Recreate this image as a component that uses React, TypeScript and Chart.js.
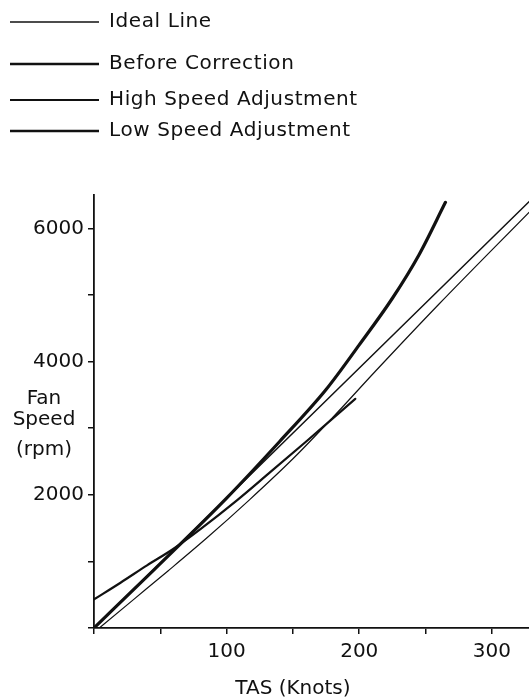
import React, { useEffect, useRef } from 'react';
import { Chart, registerables } from 'chart.js';

Chart.register(...registerables);

// ---- data ----
const SERIES_LABELS = ['Ideal Line', 'Before Correction', 'High Speed Adjustment', 'Low Speed Adjustment'];

const IDEAL_TAS = [0, 328];
const IDEAL_RPM = [0, 6400];

const BEFORE_TAS = [0, 45, 100, 140, 175, 200, 225, 245, 265];
const BEFORE_RPM = [0, 870, 1950, 2800, 3580, 4250, 4950, 5600, 6390];

const HIGH_TAS = [4, 30, 56, 85, 117, 150, 180, 212, 260, 328];
const HIGH_RPM = [0, 430, 860, 1350, 1920, 2540, 3160, 3850, 4860, 6240];

const LOW_TAS = [0, 20, 40, 60, 80, 108, 130, 160, 197];
const LOW_RPM = [430, 680, 940, 1190, 1480, 1920, 2290, 2800, 3440];

const X_TICK_VALUES = [0, 50, 100, 150, 200, 250, 300];
const X_TICK_LABELS = [100, 200, 300];
const Y_TICK_VALUES = [0, 1000, 2000, 3000, 4000, 5000, 6000];
const Y_TICK_LABELS = [2000, 4000, 6000];
const X_TITLE = 'TAS (Knots)';
const Y_TITLE_LINES = ['Fan', 'Speed', '(rpm)'];

// ---- styling ----
const INK = '#111';
const FONT = '"DejaVu Sans", sans-serif';
const LEGEND_ROW_Y = [22, 64, 100, 131];
const Y_TITLE_BASELINES = [404, 425, 455];

const toPoints = (xs: number[], ys: number[]) => xs.map((x, i) => ({ x, y: ys[i] }));

const annotate = {
  id: 'annotate',
  afterDraw(chart: any) {
    const ctx = chart.ctx as CanvasRenderingContext2D;
    ctx.save();
    ctx.fillStyle = INK;
    ctx.strokeStyle = INK;
    ctx.lineCap = 'butt';
    ctx.font = `20px ${FONT}`;
    ctx.textAlign = 'left';
    ctx.textBaseline = 'alphabetic';
    // legend, one row per series
    chart.data.datasets.forEach((ds: any, i: number) => {
      const y = LEGEND_ROW_Y[i];
      ctx.lineWidth = ds.legendLineWidth;
      ctx.beginPath();
      ctx.moveTo(10, y);
      ctx.lineTo(99, y);
      ctx.stroke();
      (ctx as any).letterSpacing = '0.6px';
      ctx.fillText(ds.label, 109, y + 5);
    });
    (ctx as any).letterSpacing = '0px';
    // horizontal y-axis title
    ctx.textAlign = 'center';
    Y_TITLE_LINES.forEach((t, i) => ctx.fillText(t, 44, Y_TITLE_BASELINES[i]));
    // x-axis title
    const xs = chart.scales.x;
    ctx.fillText(X_TITLE, xs.getPixelForValue(150), 694);
    ctx.restore();
  },
};

export default function App() {
  const ref = useRef<HTMLCanvasElement | null>(null);

  useEffect(() => {
    if (!ref.current) return;
    const common = {
      showLine: true,
      pointRadius: 0,
      borderColor: INK,
      backgroundColor: INK,
      fill: false,
      cubicInterpolationMode: 'monotone' as const,
      borderCapStyle: 'round' as const,
    };
    const gridOpts = { display: true, drawOnChartArea: false, drawTicks: true, tickLength: 6, color: INK, tickColor: INK, lineWidth: 1.5 };
    const chart = new Chart(ref.current, {
      type: 'scatter',
      data: {
        datasets: [
          { ...common, label: SERIES_LABELS[0], data: toPoints(IDEAL_TAS, IDEAL_RPM), borderWidth: 1.5, legendLineWidth: 1.3 } as any,
          { ...common, label: SERIES_LABELS[1], data: toPoints(BEFORE_TAS, BEFORE_RPM), borderWidth: 3.2, legendLineWidth: 2.6 } as any,
          { ...common, label: SERIES_LABELS[2], data: toPoints(HIGH_TAS, HIGH_RPM), borderWidth: 1.2, legendLineWidth: 1.8 } as any,
          { ...common, label: SERIES_LABELS[3], data: toPoints(LOW_TAS, LOW_RPM), borderWidth: 2.2, legendLineWidth: 2.6 } as any,
        ],
      },
      options: {
        responsive: false,
        animation: false,
        events: [],
        layout: { padding: { top: 195, left: 0, right: 0, bottom: 0 } },
        plugins: { legend: { display: false }, tooltip: { enabled: false }, title: { display: false } },
        scales: {
          x: {
            type: 'linear',
            min: 0,
            max: 328,
            afterFit: (s: any) => { s.height = 70; },
            afterBuildTicks: (s: any) => { s.ticks = X_TICK_VALUES.map((value) => ({ value })); },
            grid: gridOpts,
            border: { display: true, color: INK, width: 1.8 },
            ticks: {
              autoSkip: false,
              maxRotation: 0,
              padding: 6,
              color: INK,
              font: { family: FONT, size: 20 },
              callback: (v: any) => (X_TICK_LABELS.includes(Number(v)) ? String(v) : ''),
            },
          },
          y: {
            type: 'linear',
            min: 0,
            max: 6500,
            afterFit: (s: any) => { s.width = 94; },
            afterBuildTicks: (s: any) => { s.ticks = Y_TICK_VALUES.map((value) => ({ value })); },
            grid: gridOpts,
            border: { display: true, color: INK, width: 1.8 },
            ticks: {
              autoSkip: false,
              padding: 4,
              color: INK,
              font: { family: FONT, size: 20 },
              callback: (v: any) => (Y_TICK_LABELS.includes(Number(v)) ? String(v) : ''),
            },
          },
        },
      },
      plugins: [annotate],
    });
    return () => chart.destroy();
  }, []);

  return (
    <div style={{ position: 'absolute', left: 0, top: 0, width: 529, height: 698, background: '#fff' }}>
      <canvas ref={ref} width={529} height={698} style={{ display: 'block' }} />
    </div>
  );
}
